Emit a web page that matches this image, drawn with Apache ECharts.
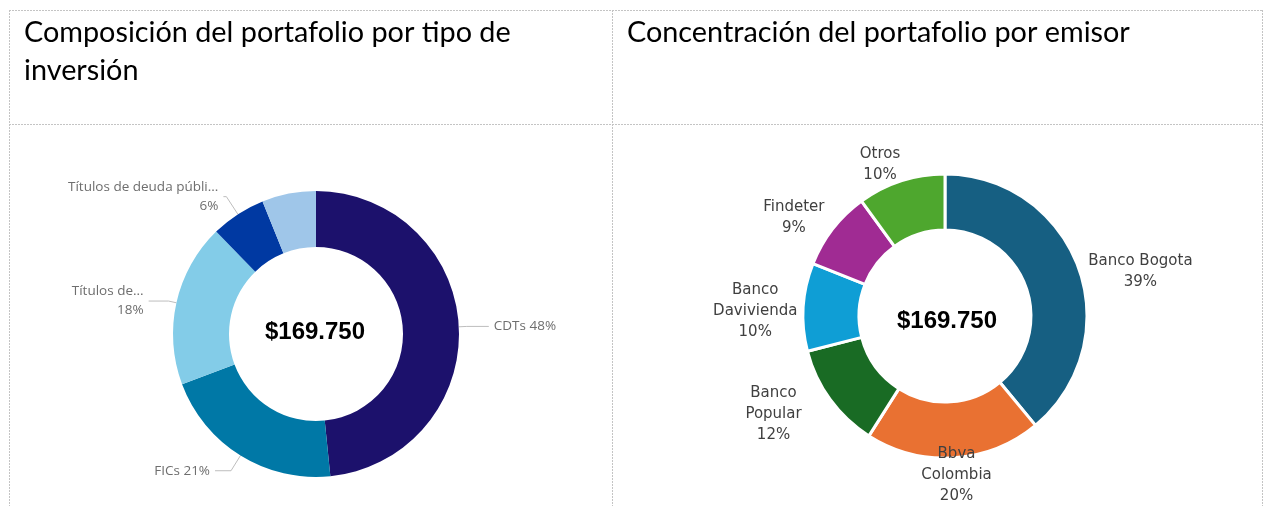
<!DOCTYPE html>
<html>
<head>
<meta charset="utf-8">
<script src="https://cdn.jsdelivr.net/npm/echarts@6/dist/echarts.min.js"></script>
<style>
  html, body { margin: 0; padding: 0; background: #fff; }
  #main { width: 1267px; height: 506px; }
</style>
</head>
<body>
<div id="main"></div>
<script>
// tipo de inversión (izquierda)
var tipoNombres = ['CDTs', 'FICs', 'Títulos de...', 'Títulos de deuda públi...', 'Otros'];
var tipoPct = [48.4, 20.9, 18.4, 6.2, 6.1];
var tipoColores = ['#1c116c', '#0078a6', '#83cce8', '#0039a2', '#9fc6e9'];

// emisor (derecha)
var emisorNombres = ['Banco Bogota', 'Bbva\nColombia', 'Banco\nPopular', 'Banco\nDavivienda', 'Findeter', 'Otros'];
var emisorPct = [39, 20, 12, 10, 9, 10];
var emisorColores = ['#165f82', '#e97132', '#196b24', '#0f9ed5', '#a02b93', '#4ea72e'];

var totalTexto = '$169.750';
var titulos = ['Composición del portafolio por tipo de\ninversión', 'Concentración del portafolio por emisor'];

var chart = echarts.init(document.getElementById('main'));

// ajustes de líneas guía por porción (izquierda)
var guiaIzq = [
  { length: 8, length2: 22 },
  { length: 18, length2: 16 },
  { length: 8, length2: 20 },
  { length: 21, length2: 3 },
  null
];

var tipoData = tipoNombres.map(function (n, i) {
  var d = { name: n, value: tipoPct[i], itemStyle: { color: tipoColores[i] } };
  if (guiaIzq[i]) {
    d.labelLine = guiaIzq[i];
  } else {
    d.label = { show: false };
    d.labelLine = { show: false };
  }
  return d;
});

var emisorData = emisorNombres.map(function (n, i) {
  return { name: n, value: emisorPct[i], itemStyle: { color: emisorColores[i] } };
});

// desplazamiento manual de etiquetas (derecha), como en la gráfica original
var ajusteEtiqueta = [[7, 13], [0, -20], [-29, -7], [0, 6], [-10, 5], [-13, 9]];

var borde = { stroke: '#c4c4c4', lineWidth: 1, lineDash: [2, 1] };
var tituloEstilo = { fontFamily: 'Lato', fontWeight: 'normal', fontSize: 28.8, lineHeight: 38, color: '#000' };
var totalEstilo = { fontFamily: 'Liberation Sans', fontWeight: 'bold', fontSize: 24, color: '#000' };

var option = {
  animation: false,
  title: [
    { text: titulos[0], left: 19, top: 9, textStyle: tituloEstilo },
    { text: titulos[1], left: 622, top: 9, textStyle: tituloEstilo },
    { text: totalTexto, left: 310, top: 315, textAlign: 'center', textStyle: totalEstilo },
    { text: totalTexto, left: 942, top: 304, textAlign: 'center', textStyle: totalEstilo }
  ],
  graphic: [
    { type: 'line', shape: { x1: 9, y1: 10.5, x2: 1263, y2: 10.5 }, style: borde, silent: true },
    { type: 'line', shape: { x1: 9, y1: 124.5, x2: 1263, y2: 124.5 }, style: borde, silent: true },
    { type: 'line', shape: { x1: 9.5, y1: 10, x2: 9.5, y2: 506 }, style: borde, silent: true },
    { type: 'line', shape: { x1: 612.5, y1: 10, x2: 612.5, y2: 506 }, style: borde, silent: true },
    { type: 'line', shape: { x1: 1262.5, y1: 10, x2: 1262.5, y2: 506 }, style: borde, silent: true }
  ],
  series: [
    {
      type: 'pie',
      center: [316, 334],
      radius: [87, 143],
      startAngle: 90,
      clockwise: true,
      avoidLabelOverlap: false,
      data: tipoData,
      label: {
        show: true,
        position: 'outside',
        fontFamily: 'Open Sans',
        fontSize: 13.5,
        lineHeight: 19,
        color: '#6e6e6e',
        formatter: function (p) {
          var pct = Math.round(p.value) + '%';
          return p.name.length > 8 ? p.name + '\n' + pct : p.name + ' ' + pct;
        }
      },
      labelLine: {
        show: true,
        lineStyle: { color: '#bdbdbd', width: 1 }
      }
    },
    {
      type: 'pie',
      center: [945, 316],
      radius: [86, 142],
      startAngle: 90,
      clockwise: true,
      avoidLabelOverlap: false,
      data: emisorData,
      itemStyle: { borderColor: '#fff', borderWidth: 3 },
      label: {
        show: true,
        position: 'outside',
        fontFamily: 'DejaVu Sans',
        fontSize: 15,
        lineHeight: 21,
        color: '#404040',
        formatter: function (p) { return p.name + '\n' + p.value + '%'; }
      },
      labelLine: {
        show: true,
        length: 6,
        length2: 0,
        lineStyle: { width: 0, opacity: 0 }
      },
      labelLayout: function (p) {
        var pts = p.labelLinePoints;
        if (!pts) return {};
        var dx = pts[1][0] - pts[0][0];
        var dy = pts[1][1] - pts[0][1];
        var len = Math.sqrt(dx * dx + dy * dy) || 1;
        var ux = dx / len, uy = dy / len;
        var r = p.labelRect;
        var aj = ajusteEtiqueta[p.dataIndex] || [0, 0];
        return {
          x: pts[1][0] + ux * r.width / 2 + aj[0],
          y: pts[1][1] + uy * r.height / 2 + aj[1],
          align: 'center',
          verticalAlign: 'middle'
        };
      }
    }
  ]
};

chart.setOption(option);
</script>
</body>
</html>
